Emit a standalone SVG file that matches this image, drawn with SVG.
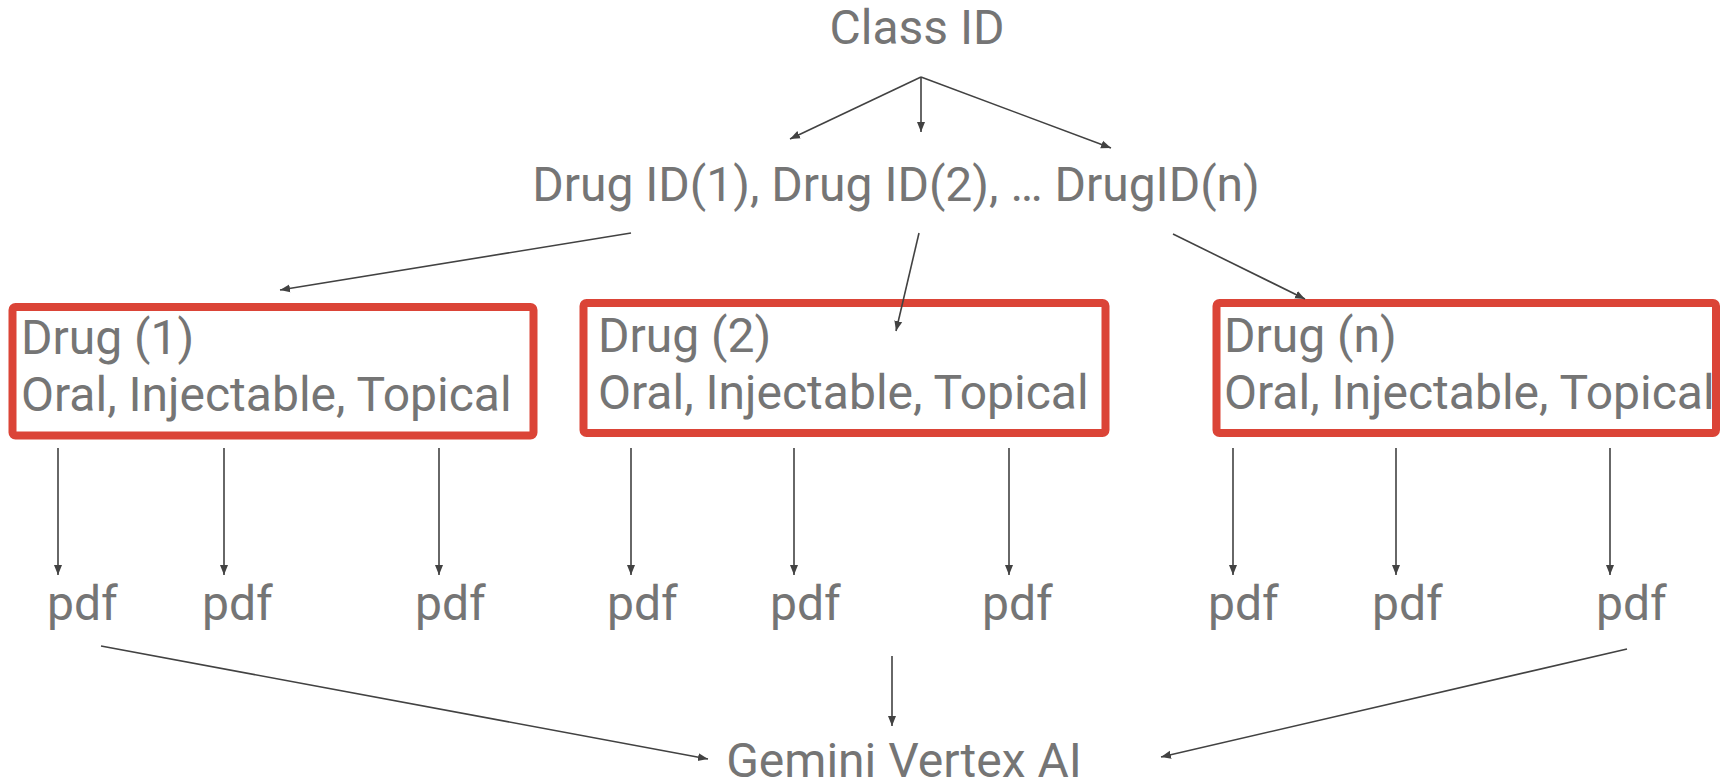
<svg xmlns="http://www.w3.org/2000/svg" width="1720" height="784" viewBox="0 0 1720 784">
  <defs>
    <marker id="arrow" viewBox="0 0 10 10" refX="10" refY="5" markerWidth="10" markerHeight="10" markerUnits="userSpaceOnUse" orient="auto">
      <path d="M0,1 L10,5 L0,9 z" fill="#424242"/>
    </marker>
    <style>
      .t { font-family: Roboto, "Liberation Sans", sans-serif; font-size: 48px; fill: #757575; }
      .box { fill: #ffffff; stroke: #db4437; stroke-width: 8; }
      .c { stroke: #424242; stroke-width: 1.6; fill: none; marker-end: url(#arrow); }
    </style>
  </defs>
  <rect width="1720" height="784" fill="#ffffff"/>

  <g id="class-id">
    <text class="t" x="917" y="44" text-anchor="middle">Class ID</text>
  </g>

  <g id="drug-ids">
    <text class="t" x="896" y="201" text-anchor="middle">Drug ID(1), Drug ID(2), … DrugID(n)</text>
  </g>

  <g id="drug-1">
    <rect class="box" x="12.5" y="307" width="521" height="128.5" rx="3"/>
    <text class="t" x="21" y="354">Drug (1)</text>
    <text class="t" x="21" y="411">Oral, Injectable, Topical</text>
  </g>

  <g id="drug-2">
    <rect class="box" x="583.5" y="303" width="522" height="130" rx="3"/>
    <text class="t" x="598" y="352">Drug (2)</text>
    <text class="t" x="598" y="409">Oral, Injectable, Topical</text>
  </g>

  <g id="drug-n">
    <rect class="box" x="1216.5" y="303" width="499.5" height="130" rx="3"/>
    <text class="t" x="1224" y="352">Drug (n)</text>
    <text class="t" x="1224" y="409">Oral, Injectable, Topical</text>
  </g>

  <g id="pdfs">
    <text class="t" x="47" y="620">pdf</text>
    <text class="t" x="202" y="620">pdf</text>
    <text class="t" x="415" y="620">pdf</text>
    <text class="t" x="607" y="620">pdf</text>
    <text class="t" x="770" y="620">pdf</text>
    <text class="t" x="982" y="620">pdf</text>
    <text class="t" x="1208" y="620">pdf</text>
    <text class="t" x="1372" y="620">pdf</text>
    <text class="t" x="1596" y="620">pdf</text>
  </g>

  <g id="gemini">
    <text class="t" x="904" y="777" text-anchor="middle">Gemini Vertex AI</text>
  </g>

  <g id="connectors">
    <!-- Class ID to drug list -->
    <line class="c" x1="921" y1="77" x2="790" y2="139"/>
    <line class="c" x1="921" y1="77" x2="921" y2="132"/>
    <line class="c" x1="921" y1="77" x2="1111" y2="148"/>
    <!-- drug list to each drug -->
    <line class="c" x1="631" y1="233" x2="280" y2="290"/>
    <line class="c" x1="919" y1="233" x2="896" y2="331"/>
    <line class="c" x1="1173" y1="234" x2="1305" y2="299"/>
    <!-- drug to pdfs -->
    <line class="c" x1="58" y1="448" x2="58" y2="575"/>
    <line class="c" x1="224" y1="448" x2="224" y2="575"/>
    <line class="c" x1="439" y1="448" x2="439" y2="575"/>
    <line class="c" x1="631" y1="448" x2="631" y2="575"/>
    <line class="c" x1="794" y1="448" x2="794" y2="575"/>
    <line class="c" x1="1009" y1="448" x2="1009" y2="575"/>
    <line class="c" x1="1233" y1="448" x2="1233" y2="575"/>
    <line class="c" x1="1396" y1="448" x2="1396" y2="575"/>
    <line class="c" x1="1610" y1="448" x2="1610" y2="575"/>
    <!-- pdfs to Gemini -->
    <line class="c" x1="101" y1="646" x2="708" y2="759"/>
    <line class="c" x1="892" y1="656" x2="892" y2="726"/>
    <line class="c" x1="1627" y1="649" x2="1161" y2="757"/>
  </g>
</svg>
